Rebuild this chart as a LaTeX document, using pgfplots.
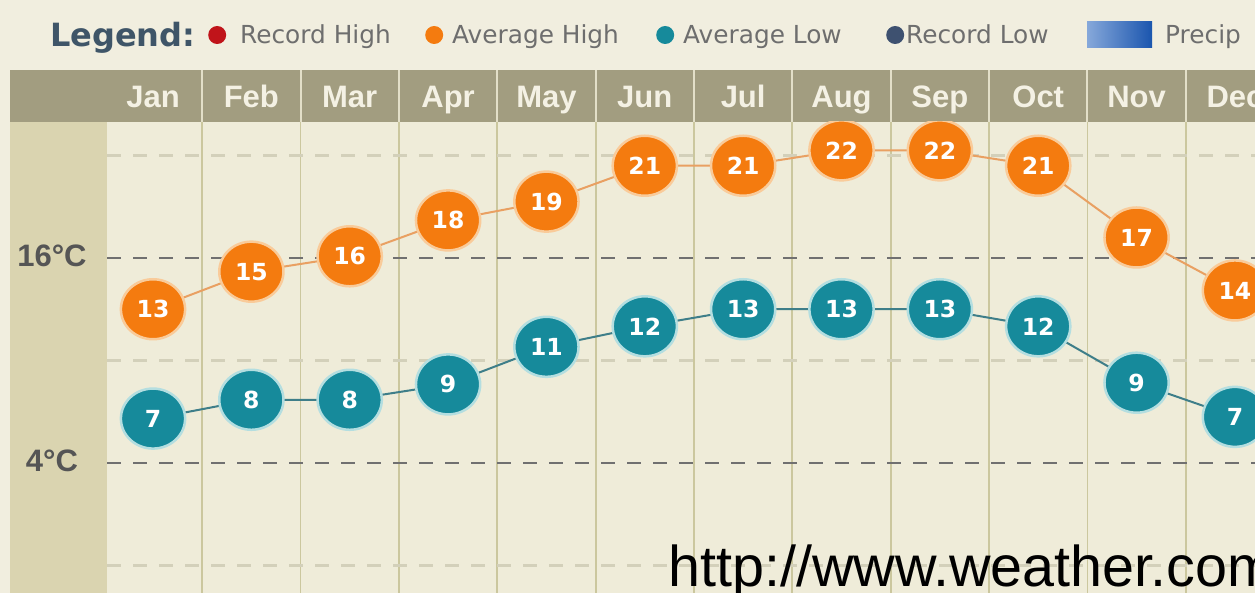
\documentclass[border=0pt]{standalone}
\usepackage{pgfplots}
\usepackage{pgfplotstable}
\pgfplotsset{compat=1.18}
\usepackage{fontspec}
\setmainfont{DejaVu Sans}
\newfontfamily\lib{Liberation Sans}
\newfontfamily\dvs{DejaVu Sans}

\definecolor{bgcream}{HTML}{F1EEDF}
\definecolor{plotbg}{HTML}{EFECD9}
\definecolor{leftcol}{HTML}{DAD4B0}
\definecolor{headbar}{HTML}{A29D80}
\definecolor{headsep}{HTML}{E3DFC8}
\definecolor{colsep}{HTML}{CBC79E}
\definecolor{griddark}{HTML}{707070}
\definecolor{gridlight}{HTML}{D3D0BA}
\definecolor{avgorange}{HTML}{F47B0F}
\definecolor{orangehalo}{HTML}{F9CB9A}
\definecolor{orangeline}{HTML}{E9A062}
\definecolor{avgteal}{HTML}{168A9B}
\definecolor{tealhalo}{HTML}{B4DEE0}
\definecolor{tealline}{HTML}{3E7E89}
\definecolor{rechigh}{HTML}{C0141A}
\definecolor{reclow}{HTML}{3E5170}
\definecolor{legtitle}{HTML}{3F5568}
\definecolor{legtext}{HTML}{6E6E6E}
\definecolor{ylab}{HTML}{555555}
\definecolor{monthtext}{HTML}{F4F1E4}
\definecolor{preciplight}{HTML}{86A8DA}
\definecolor{precipdark}{HTML}{1A55AE}

\pgfplotstableread{
x y lab
0 13.0 13
1 15.2 15
2 16.1 16
3 18.2 18
4 19.3 19
5 21.4 21
6 21.4 21
7 22.3 22
8 22.3 22
9 21.4 21
10 17.2 17
11 14.1 14
}\highdata

\pgfplotstableread{
x y lab
0 6.6 7
1 7.7 8
2 7.7 8
3 8.6 9
4 10.8 11
5 12.0 12
6 13.0 13
7 13.0 13
8 13.0 13
9 12.0 12
10 8.7 9
11 6.7 7
}\lowdata

\begin{document}
\begin{tikzpicture}
\useasboundingbox (0pt,0pt) rectangle (1255pt,593pt);
\clip (0pt,0pt) rectangle (1255pt,593pt);
\fill[bgcream] (0pt,0pt) rectangle (1255pt,593pt);
\fill[leftcol] (10pt,0pt) rectangle (107pt,471pt);
\fill[headbar] (10pt,471pt) rectangle (1255pt,523pt);
\foreach \s in {202.2,300.5,398.9,497.3,595.6,694,792.4,890.7,989.1,1087.4,1185.8}
  \draw[headsep, line width=2pt] (\s pt,471pt) -- (\s pt,523pt);

\begin{axis}[
  at={(107pt,0pt)}, anchor=south west,
  scale only axis, width=1148pt, height=471pt,
  xmin=-0.4677, xmax=11.204, ymin=-3.61, ymax=23.961,
  axis background/.style={fill=plotbg},
  axis line style={draw=none},
  major tick length=0pt, minor tick length=0pt,
  clip marker paths=true,
  xtick={0,...,11},
  xticklabels={\mbox{Jan},\mbox{Feb},\mbox{Mar},\mbox{Apr},\mbox{May},\mbox{Jun},\mbox{Jul},\mbox{Aug},\mbox{Sep},\mbox{Oct},\mbox{Nov},\mbox{Dec}},
  xticklabel pos=upper,
  xticklabel style={anchor=base, yshift=14pt, inner sep=0pt, text=monthtext, font=\lib\bfseries\fontsize{31}{34}\selectfont},
  minor xtick={0.5,1.5,...,10.5},
  xminorgrids,
  minor grid style={colsep, line width=1.8pt},
  ytick={4,16},
  yticklabels={\mbox{4°C},\mbox{16°C}},
  yticklabel style={anchor=center, xshift=-55pt, yshift=2pt, inner sep=0pt, text=ylab, font=\lib\bfseries\fontsize{31}{34}\selectfont},
  ymajorgrids,
  major grid style={griddark, line width=2.5pt, dash pattern=on 14pt off 12pt},
  extra y ticks={-2,10,22},
  extra y tick labels={},
  extra y tick style={grid=major, major grid style={gridlight, line width=2.5pt, dash pattern=on 14pt off 12pt}},
  legend columns=-1,
  legend cell align=left,
  legend style={draw=none, fill=none, inner sep=0pt, column sep=0pt, row sep=0pt,
    nodes={inner sep=0pt, anchor=west},
    font=\dvs\fontsize{24.8}{28}\selectfont, text=legtext,
    at={(axis description cs:-0.04965,1.1847)}, anchor=west},
]
\addlegendimage{legend image code/.code={\path[draw=none,fill=none] (0pt,0pt);}}
\addlegendentry{\makebox[147pt][l]{\textcolor{legtitle}{\bfseries\fontsize{32}{36}\selectfont Legend:}}}
\addlegendimage{legend image code/.code={\path[draw=none,fill=none] (0pt,-10pt) rectangle (43pt,10pt); \fill[rechigh, draw=none] (20pt,0pt) circle (9pt);}}
\addlegendentry{\makebox[152pt][l]{Record High}}

\addplot[orangeline, line width=2pt, mark=*, mark size=30pt,
  mark options={xscale=1.07, fill=avgorange, draw=orangehalo, line width=2.5pt},
  nodes near coords, point meta=explicit symbolic,
  nodes near coords style={anchor=center, inner sep=0pt, text=white, font=\dvs\bfseries\fontsize{23.5}{26}\selectfont},
  legend image code/.code={\path[draw=none,fill=none] (0pt,-10pt) rectangle (60pt,10pt); \fill[avgorange, draw=none] (42pt,0pt) circle (9pt);}]
  table[x=x, y=y, meta=lab] {\highdata};
\addlegendentry{\makebox[168pt][l]{Average High}}

\addplot[tealline, line width=2pt, mark=*, mark size=30pt,
  mark options={xscale=1.07, fill=avgteal, draw=tealhalo, line width=2.5pt},
  nodes near coords, point meta=explicit symbolic,
  nodes near coords style={anchor=center, inner sep=0pt, text=white, font=\dvs\bfseries\fontsize{23.5}{26}\selectfont},
  legend image code/.code={\path[draw=none,fill=none] (0pt,-10pt) rectangle (63pt,10pt); \fill[avgteal, draw=none] (45pt,0pt) circle (9pt);}]
  table[x=x, y=y, meta=lab] {\lowdata};
\addlegendentry{\makebox[162pt][l]{Average Low}}

\addlegendimage{legend image code/.code={\path[draw=none,fill=none] (0pt,-10pt) rectangle (61pt,10pt); \fill[reclow, draw=none] (50pt,0pt) circle (9pt);}}
\addlegendentry{\makebox[147pt][l]{Record Low}}
\addlegendimage{legend image code/.code={\path[draw=none,fill=none] (0pt,-13pt) rectangle (112pt,13pt); \shade[draw=none, left color=preciplight, right color=precipdark] (34pt,-13pt) rectangle (99pt,13pt);}}
\addlegendentry{\makebox[75pt][l]{Precip}}
\end{axis}

\node[anchor=base west, inner sep=0pt, font=\lib\fontsize{57.5}{60}\selectfont, text=black] at (668pt,6pt) {http://www.weather.com};
\end{tikzpicture}
\end{document}
